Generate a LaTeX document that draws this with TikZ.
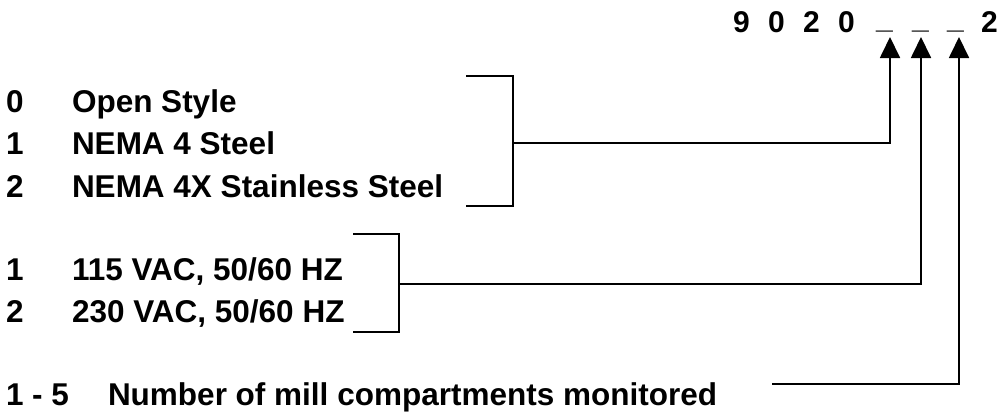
\documentclass[tikz,border=0pt]{standalone}
\usepackage{fontspec}
\setmainfont{Liberation Sans}
\usetikzlibrary{arrows.meta}
\begin{document}
\begin{tikzpicture}[x=1pt,y=-1pt,
  lbl/.style={anchor=base west,inner sep=0pt,outer sep=0pt,font=\fontsize{31.5}{38}\selectfont\bfseries},
  code/.style={anchor=base west,inner sep=0pt,outer sep=0pt,font=\fontsize{30}{36}\selectfont\bfseries},
  brk/.style={line width=1.8pt},
  conn/.style={line width=1.8pt,-{Triangle[length=21pt,width=20pt]}}]
\useasboundingbox (0,0) rectangle (1001,413);
% top code
\node[code] (c1) at (733,32) {9};
\node[code] (c2) at (768,32) {0};
\node[code] (c3) at (803,32) {2};
\node[code] (c4) at (838,32) {0};
\node[code] (u1) at (876,28) {\_};
\node[code] (u2) at (912,28) {\_};
\node[code] (u3) at (947,28) {\_};
\node[code] (c5) at (981,32) {2};
% first group
\node[lbl] (n0) at (6,112) {0};
\node[lbl] (d0) at (72,112) {Open Style};
\node[lbl] (n1) at (6,154.5) {1};
\node[lbl] (d1) at (72,154.5) {NEMA 4 Steel};
\node[lbl] (n2) at (6,197) {2};
\node[lbl] (d2) at (72,197) {NEMA 4X Stainless Steel};
% second group
\node[lbl] (m1) at (6,280) {1};
\node[lbl] (e1) at (72,280) {115 VAC, 50/60 HZ};
\node[lbl] (m2) at (6,322) {2};
\node[lbl] (e2) at (72,322) {230 VAC, 50/60 HZ};
% third
\node[lbl] (k1) at (6,405) {1 - 5};
\node[lbl] (k2) at (108,405) {Number of mill compartments monitored};
% brackets
\draw[brk] (466,76) -- (513,76) -- (513,206) -- (466,206);
\draw[brk] (353,234) -- (399,234) -- (399,332) -- (353,332);
\coordinate (j1) at (513,143);
\coordinate (j2) at (399,284);
\coordinate (j3) at (772,384);
\coordinate (t1) at (890,37);
\coordinate (t2) at (921,37);
\coordinate (t3) at (959,37);
\draw[conn] (j1) -| (t1);
\draw[conn] (j2) -| (t2);
\draw[conn] (j3) -| (t3);
\end{tikzpicture}
\end{document}
